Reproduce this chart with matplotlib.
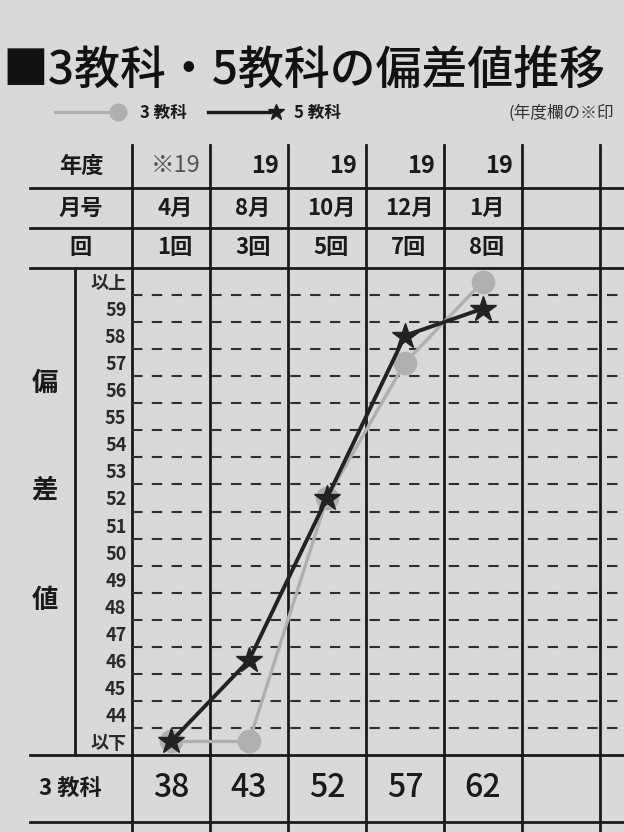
"""
3教科・5教科の偏差値推移 (printed score-sheet chart) recreated in matplotlib.
"""

import numpy as np
import matplotlib.pyplot as plt
from matplotlib import transforms


plt.rcParams["font.family"] = ["Noto Sans CJK JP", "DejaVu Sans"]

TITLE = "■3教科・5教科の偏差値推移"
NOTE = "(年度欄の※印"

YEARS = ["※19", "19", "19", "19", "19"]
MONTHS = ["4月", "8月", "10月", "12月", "1月"]
ROUNDS = ["1回", "3回", "5回", "7回", "8回"]

# raw 3教科 scores (bottom row) and the plotted 偏差値 of each series
THREE_SCORES = [38, 43, 52, 57, 62]
THREE_DEV = [38, 43, 52, 57, 62]
FIVE_DEV = [43, 46, 52, 58, 59]  # 43 = 以下

Y_TICKS = list(range(43, 61))
Y_LABELS = ["以下"] + [str(v) for v in range(44, 60)] + ["以上"]
N_COLUMNS = 7

PAPER = "#d9d9d9"
INK = "#1a1a1a"
GREY_SERIES = "#b0b0b0"
NARROW = ["Liberation Sans Narrow", "Noto Sans CJK JP", "DejaVu Sans"]
FRAME_WIDTH = 2.0


def main():
    figure = plt.figure(figsize=(6.24, 8.32), dpi=100, facecolor=PAPER)

    # background axes in pixel coordinates for the table frame
    bg = figure.add_axes([0, 0, 1, 1])
    bg.set_xlim(0, 624)
    bg.set_ylim(832, 0)
    bg.axis("off")

    # chart axes: column centres at 0..4, value bands 43..60
    left_px, right_px, top_px, bottom_px = 132, 624, 268, 755
    axis = figure.add_axes(
        [
            left_px / 624,
            1 - bottom_px / 832,
            (right_px - left_px) / 624,
            (bottom_px - top_px) / 832,
        ]
    )
    axis.set_xlim(-0.5, (624 - 171) / 78)
    axis.set_ylim(42.5, 60.5)
    axis.set_facecolor("none")
    for spine in axis.spines.values():
        spine.set_visible(False)
    axis.set_xticks([])
    axis.set_yticks(Y_TICKS)
    axis.set_yticklabels(
        Y_LABELS, family=NARROW, fontsize=13, weight="bold", color="#2a2a2a"
    )
    axis.tick_params(axis="y", length=0, pad=4)

    # dashed band lines
    for boundary in np.arange(43.5, 60.0, 1.0):
        axis.axhline(
            boundary,
            color="#2e2e2e",
            linewidth=1.5,
            linestyle=(0, (5, 4.5)),
            zorder=1,
        )

    # table frame
    column_x = transforms.blended_transform_factory(axis.transData, bg.transData)
    for boundary in np.arange(-0.5, N_COLUMNS - 0.5, 1.0):
        bg.plot(
            [boundary, boundary],
            [145, 832],
            color=INK,
            linewidth=FRAME_WIDTH,
            transform=column_x,
            clip_on=False,
        )
    for row_y in [188, 228, 268, 755, 822]:
        bg.plot([30, 624], [row_y, row_y], color=INK, linewidth=FRAME_WIDTH)
    bg.plot([75, 75], [268, 755], color=INK, linewidth=FRAME_WIDTH)

    # title and legend
    bg.text(
        2, 70, TITLE, fontsize=33, weight="medium", color="#111111",
        va="center", ha="left",
    )
    bg.plot([55, 114], [112, 112], color=GREY_SERIES, linewidth=2.2)
    bg.plot([118], [112], marker="o", markersize=12, color=GREY_SERIES)
    bg.text(140, 113, "3 教科", fontsize=12, va="center", weight="bold", color=INK)
    bg.plot([208, 270], [112, 112], color=INK, linewidth=2.4)
    bg.plot([276], [112], marker="*", markersize=12, color=INK)
    bg.text(294, 113, "5 教科", fontsize=12, va="center", weight="bold", color=INK)
    bg.text(508, 113, NOTE, fontsize=12, va="center", color="#333333")

    # header rows
    for label, row_y in zip(["年度", "月号", "回"], [166, 208, 248]):
        bg.text(
            81, row_y, label, fontsize=16, weight="bold",
            ha="center", va="center", color=INK,
        )

    for index, label in enumerate(YEARS):
        bg.text(
            index + 0.38,
            166,
            label,
            transform=column_x,
            fontsize=17,
            ha="right",
            va="center",
            family=NARROW,
            weight="normal" if label.startswith("※") else "bold",
            color="#555555" if label.startswith("※") else INK,
        )
    for labels, row_y in [(MONTHS, 208), (ROUNDS, 248)]:
        for index, label in enumerate(labels):
            bg.text(
                index + 0.05,
                row_y,
                label,
                transform=column_x,
                fontsize=16,
                ha="center",
                va="center",
                family=NARROW,
                weight="bold",
                color=INK,
            )

    # side caption
    for char, char_y in zip("偏差値", [383, 490, 600]):
        bg.text(
            45, char_y, char, fontsize=19, weight="bold",
            ha="center", va="center", color=INK,
        )

    # bottom score row
    bg.text(
        70, 788, "3 教科", fontsize=16, weight="bold",
        ha="center", va="center", color=INK,
    )
    for index, score in enumerate(THREE_SCORES):
        bg.text(
            index,
            788,
            str(score),
            transform=column_x,
            fontsize=23,
            ha="center",
            va="center",
            family=NARROW,
            weight="medium",
            color=INK,
        )

    # series
    positions = np.arange(len(THREE_DEV))
    axis.plot(
        positions,
        np.clip(THREE_DEV, 43, 60),
        color=GREY_SERIES,
        linewidth=2.4,
        marker="o",
        markersize=16,
        zorder=3,
        clip_on=False,
    )
    axis.plot(
        positions,
        np.clip(FIVE_DEV, 43, 60),
        color="#222222",
        linewidth=2.8,
        marker="*",
        markersize=19,
        zorder=4,
        clip_on=False,
    )

    figure.savefig("out.png", dpi=100, facecolor=PAPER)
    plt.close(figure)


if __name__ == "__main__":
    main()
